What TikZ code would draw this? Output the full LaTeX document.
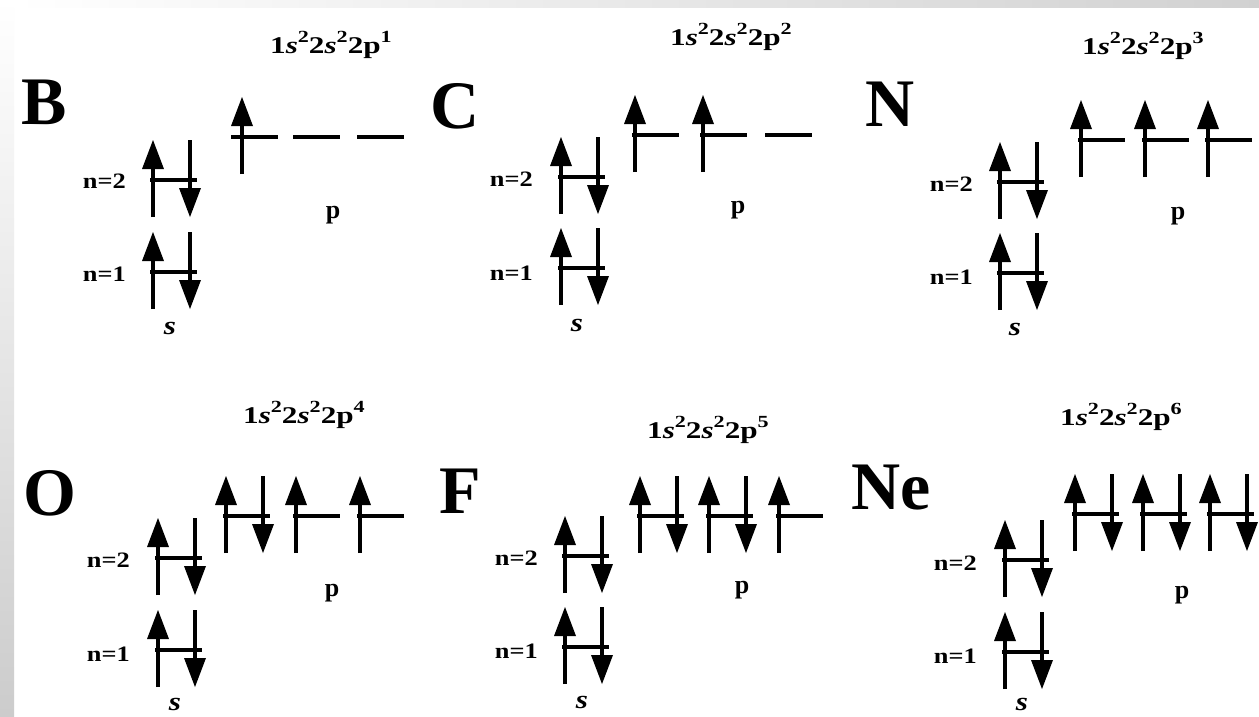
\documentclass[tikz,border=0pt]{standalone}
\usepackage{fontspec}
\setmainfont{Liberation Serif}
\tikzset{
  lvlline/.style={line width=4.3pt},
  shaft/.style={line width=4.3pt},
  elem/.style={inner sep=0pt,font=\fontsize{68}{68}\selectfont\bfseries},
  conf/.style={inner sep=0pt,anchor=base west,font=\fontsize{24}{24}\selectfont\bfseries},
  nlab/.style={inner sep=0pt,anchor=base east,font=\fontsize{22}{22}\selectfont\bfseries},
  olab/.style={inner sep=0pt,font=\fontsize{26}{26}\selectfont\bfseries}
}
\newcommand\sps[1]{\raisebox{0.42em}{\fontsize{17}{17}\selectfont #1}}
\newcommand\cfg[1]{\scalebox{1.3}[1]{1\textit{s}\sps{2}2\textit{s}\sps{2}2p\sps{#1}}}
\newcommand\nlbl[1]{\scalebox{1.2}[1]{n=#1}}
\newcommand\slbl{\scalebox{1.2}[1]{\textit{s}}}
\newcommand\lvl[2]{\draw[lvlline] (#1,#2) -- ++(47,0);}
\newcommand\upsp[2]{%
  \draw[shaft] (#1,#2+37) -- (#1,#2-20);
  \fill (#1-11,#2-11) -- (#1+11,#2-11) -- (#1,#2-40) -- cycle;}
\newcommand\dnsp[2]{%
  \draw[shaft] (#1,#2-40) -- (#1,#2+17);
  \fill (#1-11,#2+8) -- (#1+11,#2+8) -- (#1,#2+37) -- cycle;}
\newcommand\orbup[2]{\lvl{#1}{#2}\upsp{#1+3}{#2}}
\newcommand\orbpair[2]{\lvl{#1}{#2}\upsp{#1+3}{#2}\dnsp{#1+40}{#2}}
\begin{document}
\begin{tikzpicture}[x=1pt,y=-1pt]
\useasboundingbox (0,0) rectangle (1259,716);
\fill[white] (0,0) rectangle (1259,716);
\shade[top color=white,bottom color=black!20] (0,0) rectangle (14,716);
\shade[left color=white,right color=black!18] (14,0) rectangle (1259,7);

% ---- B ----
\node[elem] (eB) at (44.5,102.5) {B};
\node[conf] (cB) at (270,53) {\cfg{1}};
\node[nlab] (nB2) at (126,188) {\nlbl{2}};
\node[nlab] (nB1) at (126,281) {\nlbl{1}};
\node[olab] (sB) at (170,328) {\slbl};
\node[olab] (pB) at (333,215) {p};
\orbpair{150}{180}
\orbpair{150}{272}
\lvl{231}{137}\upsp{242}{137}
\lvl{293}{137}
\lvl{357}{137}

% ---- C ----
\node[elem] (eC) at (455.5,106) {C};
\node[conf] (cC) at (670,45) {\cfg{2}};
\node[nlab] (nC2) at (533,186) {\nlbl{2}};
\node[nlab] (nC1) at (533,280) {\nlbl{1}};
\node[olab] (sC) at (577,325) {\slbl};
\node[olab] (pC) at (738,210) {p};
\orbpair{558}{177}
\orbpair{558}{268}
\orbup{632}{135}
\orbup{700}{135}
\lvl{765}{135}

% ---- N ----
\node[elem] (eN) at (890,104.5) {N};
\node[conf] (cN) at (1082,54) {\cfg{3}};
\node[nlab] (nN2) at (973,191) {\nlbl{2}};
\node[nlab] (nN1) at (973,284) {\nlbl{1}};
\node[olab] (sN) at (1015,329) {\slbl};
\node[olab] (pN) at (1178,216) {p};
\orbpair{997}{182}
\orbpair{997}{273}
\orbup{1078}{140}
\orbup{1142}{140}
\orbup{1205}{140}

% ---- O ----
\node[elem] (eO) at (50,493.5) {O};
\node[conf] (cO) at (243,423) {\cfg{4}};
\node[nlab] (nO2) at (130,567) {\nlbl{2}};
\node[nlab] (nO1) at (130,661) {\nlbl{1}};
\node[olab] (sO) at (175,704) {\slbl};
\node[olab] (pO) at (332,593) {p};
\orbpair{155}{558}
\orbpair{155}{650}
\orbpair{223}{516}
\orbup{293}{516}
\orbup{357}{516}

% ---- F ----
\node[elem] (eF) at (460,491.5) {F};
\node[conf] (cF) at (647,438) {\cfg{5}};
\node[nlab] (nF2) at (538,565) {\nlbl{2}};
\node[nlab] (nF1) at (538,658) {\nlbl{1}};
\node[olab] (sF) at (582,702) {\slbl};
\node[olab] (pF) at (742,590) {p};
\orbpair{562}{556}
\orbpair{562}{647}
\orbpair{637}{516}
\orbpair{706}{516}
\orbup{776}{516}

% ---- Ne ----
\node[elem] (eNe) at (891.5,487.5) {Ne};
\node[conf] (cNe) at (1060,425) {\cfg{6}};
\node[nlab] (nNe2) at (977,570) {\nlbl{2}};
\node[nlab] (nNe1) at (977,663) {\nlbl{1}};
\node[olab] (sNe) at (1022,704) {\slbl};
\node[olab] (pNe) at (1182,595) {p};
\orbpair{1002}{560}
\orbpair{1002}{652}
\orbpair{1072}{514}
\orbpair{1140}{514}
\orbpair{1207}{514}
\end{tikzpicture}
\end{document}
